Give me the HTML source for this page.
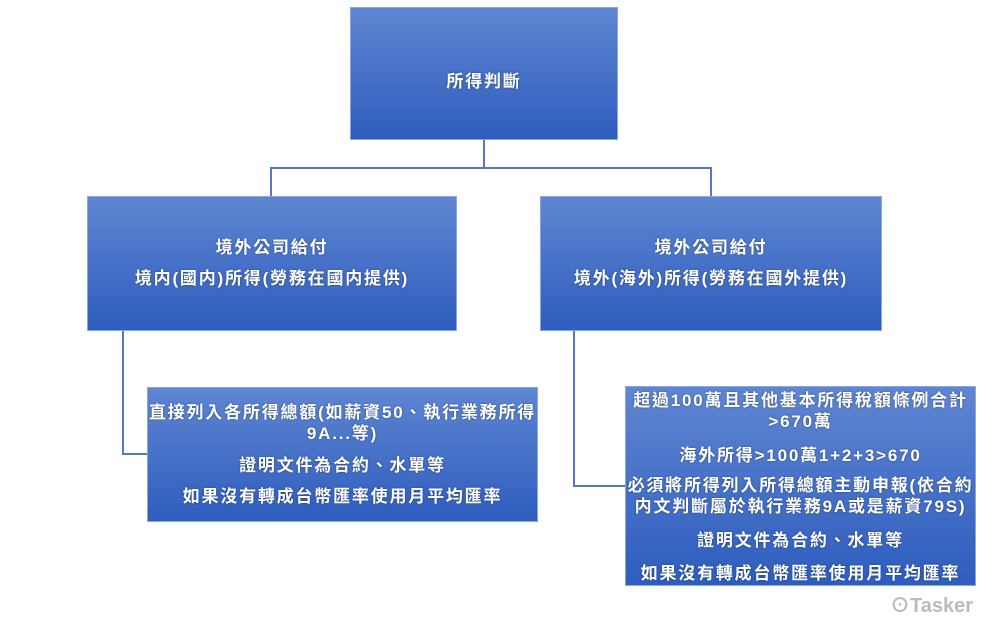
<!DOCTYPE html>
<html><head><meta charset="utf-8"><style>
body{margin:0;width:1000px;height:622px;background:#fff;position:relative;overflow:hidden;font-family:"Liberation Sans","Noto Sans CJK TC",sans-serif;}
.b{position:absolute;background:linear-gradient(#5f86d2,#2e5dbe);border:1px solid #8aa6dc;box-sizing:border-box;color:#fff;font-size:17px;letter-spacing:1.8px;text-align:center;text-shadow:0 0 2px rgba(0,0,0,.4);font-weight:bold}
.b p{margin:0;position:absolute;left:-20px;right:-20px;line-height:21px;white-space:nowrap}
</style></head><body>
<svg width="1000" height="622" style="position:absolute;left:0;top:0">
<g fill="none" stroke="#5577c4" stroke-width="2">
<path d="M484 140V168M271 196V168H711V196"/>
<path d="M123 331V454H147"/>
<path d="M574 331V486H625"/>
</g></svg>
<div class="b" style="left:350px;top:7px;width:268px;height:133px"><p style="top:63px">所得判斷</p></div>
<div class="b" style="left:87px;top:196px;width:370px;height:135px"><p style="top:40px">境外公司給付</p><p style="top:71px">境内(國内)所得(勞務在國内提供)</p></div>
<div class="b" style="left:540px;top:196px;width:342px;height:135px"><p style="top:40px">境外公司給付</p><p style="top:71px">境外(海外)所得(勞務在國外提供)</p></div>
<div class="b" style="left:147px;top:387px;width:391px;height:135px"><p style="top:14px">直接列入各所得總額(如薪資50、執行業務所得<br>9A...等)</p><p style="top:67px">證明文件為合約、水單等</p><p style="top:98px">如果沒有轉成台幣匯率使用月平均匯率</p></div>
<div class="b" style="left:625px;top:386px;width:351px;height:200px"><p style="top:3px">超過100萬且其他基本所得稅額條例合計<br>&gt;670萬</p><p style="top:58px">海外所得&gt;100萬1+2+3&gt;670</p><p style="top:88px">必須將所得列入所得總額主動申報(依合約<br>内文判斷屬於執行業務9A或是薪資79S)</p><p style="top:143px">證明文件為合約、水單等</p><p style="top:176px">如果沒有轉成台幣匯率使用月平均匯率</p></div>
<div style="position:absolute;left:890px;top:589px;color:#bbb;font-size:20px;font-weight:bold">⊙Tasker</div>
</body></html>
